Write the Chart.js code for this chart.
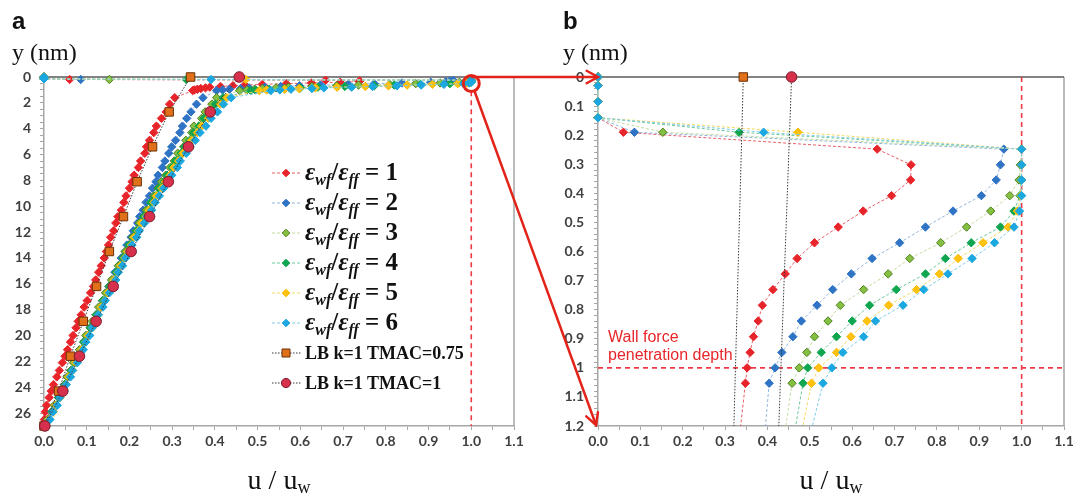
<!DOCTYPE html>
<html><head><meta charset="utf-8">
<script src="https://cdn.jsdelivr.net/npm/chart.js@4"></script>
<style>
html,body{margin:0;padding:0;background:#fff;}
#wrap{position:relative;width:1080px;height:496px;overflow:hidden;background:#fff;}
#ca,#cb{position:absolute;top:0;}
#ca{left:0;} #cb{left:540px;}
#ov{position:absolute;left:0;top:0;pointer-events:none;}
</style></head><body>
<div id="wrap">
<canvas id="ca" width="540" height="496"></canvas>
<canvas id="cb" width="540" height="496"></canvas>
<svg id="ov" width="1080" height="496" xmlns="http://www.w3.org/2000/svg"></svg>
</div>
<script>
// ---------- data (y in nm, u = u/uw) ----------
const yNear = [0, 0.03, 0.085, 0.14, 0.19, 0.248, 0.302, 0.354, 0.408, 0.461, 0.516, 0.570, 0.624, 0.677, 0.731, 0.785, 0.839, 0.893, 0.947, 1.000, 1.053];
const yFar = [1.6, 2.1, 2.7, 3.2, 3.8, 4.3, 4.9, 5.4, 5.9, 6.5, 7.0, 7.6, 8.1, 8.6, 9.2, 9.7, 10.3, 10.8, 11.3, 11.9, 12.4, 13.0, 13.5, 14.0, 14.6, 15.1, 15.7, 16.2, 16.7, 17.3, 17.8, 18.4, 18.9, 19.4, 20.0, 20.5, 21.1, 21.6, 22.1, 22.7, 23.2, 23.8, 24.3, 24.8, 25.4, 25.9, 26.5, 27.0];

const uNearE1 = [0, 0, 0, 0, 0.060, 0.659, 0.739, 0.738, 0.693, 0.626, 0.567, 0.511, 0.470, 0.442, 0.413, 0.388, 0.378, 0.367, 0.359, 0.352, 0.348];
const uNearE2 = [0, 0, 0, 0, 0.086, 0.958, 0.950, 0.940, 0.905, 0.838, 0.773, 0.712, 0.647, 0.598, 0.554, 0.517, 0.480, 0.460, 0.434, 0.418, 0.404];
const uNearE3 = [0, 0, 0, 0, 0.153, 1.000, 0.997, 0.994, 0.972, 0.927, 0.870, 0.809, 0.736, 0.685, 0.627, 0.572, 0.543, 0.511, 0.493, 0.475, 0.458];
const uNearE4 = [0, 0, 0, 0, 0.333, 1.000, 1.000, 0.999, 0.996, 0.982, 0.950, 0.881, 0.820, 0.773, 0.704, 0.641, 0.600, 0.563, 0.527, 0.495, 0.484];
const uNearE5 = [0, 0, 0, 0, 0.472, 1.000, 1.000, 1.000, 0.998, 0.990, 0.968, 0.909, 0.850, 0.806, 0.752, 0.686, 0.635, 0.597, 0.563, 0.521, 0.504];
const uNearE6 = [0, 0, 0, 0, 0.391, 1.000, 1.000, 1.000, 1.000, 0.995, 0.982, 0.936, 0.883, 0.826, 0.769, 0.720, 0.655, 0.627, 0.578, 0.552, 0.531];

const uFarE1 = [0.306, 0.294, 0.286, 0.275, 0.263, 0.257, 0.247, 0.240, 0.236, 0.226, 0.221, 0.211, 0.206, 0.200, 0.192, 0.187, 0.181, 0.173, 0.168, 0.163, 0.156, 0.151, 0.146, 0.141, 0.134, 0.128, 0.121, 0.116, 0.109, 0.101, 0.094, 0.087, 0.080, 0.075, 0.068, 0.062, 0.055, 0.049, 0.043, 0.036, 0.030, 0.022, 0.017, 0.012, 0.006, 0.003, 0.001, 0.000];
const uFarE2 = [0.372, 0.357, 0.344, 0.334, 0.324, 0.318, 0.308, 0.299, 0.292, 0.283, 0.277, 0.267, 0.262, 0.254, 0.247, 0.239, 0.232, 0.224, 0.219, 0.209, 0.204, 0.194, 0.190, 0.181, 0.175, 0.166, 0.161, 0.152, 0.147, 0.137, 0.132, 0.122, 0.117, 0.108, 0.102, 0.093, 0.087, 0.078, 0.073, 0.063, 0.058, 0.048, 0.043, 0.034, 0.028, 0.018, 0.011, 0.002];
const uFarE3 = [0.404, 0.393, 0.377, 0.369, 0.351, 0.346, 0.332, 0.327, 0.313, 0.305, 0.295, 0.285, 0.275, 0.267, 0.257, 0.250, 0.239, 0.233, 0.223, 0.216, 0.207, 0.199, 0.190, 0.185, 0.174, 0.169, 0.158, 0.153, 0.144, 0.137, 0.128, 0.122, 0.113, 0.108, 0.098, 0.093, 0.083, 0.078, 0.069, 0.063, 0.054, 0.048, 0.039, 0.034, 0.024, 0.019, 0.008, 0.001];
const uFarE4 = [0.419, 0.401, 0.389, 0.374, 0.363, 0.350, 0.341, 0.329, 0.321, 0.308, 0.300, 0.288, 0.281, 0.269, 0.260, 0.250, 0.243, 0.233, 0.227, 0.216, 0.210, 0.199, 0.194, 0.185, 0.178, 0.169, 0.162, 0.153, 0.148, 0.138, 0.133, 0.123, 0.118, 0.109, 0.103, 0.094, 0.088, 0.079, 0.074, 0.064, 0.059, 0.049, 0.044, 0.035, 0.028, 0.019, 0.012, 0.002];
const uFarE5 = [0.428, 0.413, 0.396, 0.385, 0.369, 0.359, 0.345, 0.337, 0.325, 0.315, 0.304, 0.295, 0.284, 0.276, 0.263, 0.257, 0.245, 0.239, 0.228, 0.221, 0.211, 0.204, 0.195, 0.189, 0.179, 0.173, 0.163, 0.158, 0.149, 0.142, 0.133, 0.127, 0.118, 0.113, 0.103, 0.098, 0.088, 0.083, 0.074, 0.067, 0.058, 0.052, 0.043, 0.038, 0.027, 0.022, 0.011, 0.003];
const uFarE6 = [0.438, 0.420, 0.406, 0.391, 0.379, 0.365, 0.354, 0.342, 0.333, 0.319, 0.312, 0.299, 0.291, 0.280, 0.270, 0.260, 0.252, 0.241, 0.235, 0.223, 0.217, 0.206, 0.200, 0.191, 0.184, 0.174, 0.168, 0.159, 0.153, 0.143, 0.138, 0.127, 0.123, 0.113, 0.107, 0.098, 0.092, 0.083, 0.078, 0.067, 0.062, 0.052, 0.047, 0.037, 0.031, 0.021, 0.014, 0.003];

const yLB = [0, 2.7, 5.4, 8.1, 10.8, 13.5, 16.2, 18.9, 21.6, 24.3, 27];
const uLB075 = [0.343, 0.293, 0.254, 0.218, 0.186, 0.153, 0.123, 0.092, 0.062, 0.034, 0.000];
const uLB1 = [0.457, 0.389, 0.338, 0.291, 0.247, 0.204, 0.162, 0.122, 0.083, 0.044, 0.002];

const legendLabels = ['1', '2', '3', '4', '5', '6'];
const lbLabels = ['LB k=1 TMAC=0.75', 'LB k=1 TMAC=1'];

// ---------- styles ----------
const md = [
  {near:uNearE1, far:uFarE1, pt:'#e8242b', bd:'#e8242b', ln:'rgba(225,55,65,0.8)'},
  {near:uNearE2, far:uFarE2, pt:'#2f73c5', bd:'#2f73c5', ln:'#93b6df'},
  {near:uNearE3, far:uFarE3, pt:'#86c040', bd:'#4f7e22', ln:'#c2dca0'},
  {near:uNearE4, far:uFarE4, pt:'#10a650', bd:'#10a650', ln:'#6cc99a'},
  {near:uNearE5, far:uFarE5, pt:'#ffc20e', bd:'#f5b800', ln:'#f5d860'},
  {near:uNearE6, far:uFarE6, pt:'#1ba7df', bd:'#1ba7df', ln:'#80cdeb'}
];
const lb = [
  {u:uLB075, pt:'#e0701a', bd:'#6b3208', style:'rect', r:6},
  {u:uLB1, pt:'#d6304c', bd:'#7a1b2a', style:'circle', r:5.3}
];

function mdPoints(s){
  return yNear.map((y,i)=>({x:s.near[i], y:y})).concat(yFar.map((y,i)=>({x:s.far[i], y:y})));
}
function makeDatasets(clip){
  const ds = [];
  [lb[1], lb[0]].forEach(s=>{
    ds.push({data: yLB.map((y,i)=>({x:s.u[i], y:y})), showLine:true, borderColor:'#3a3a3a', borderWidth:1,
      borderDash:[1.5,1.5], pointStyle:s.style, pointRadius:s.r, pointBackgroundColor:s.pt,
      pointBorderColor:s.bd, pointBorderWidth:1, clip:clip});
  });
  [5,4,3,2,1,0].forEach(k=>{
    const s = md[k];
    ds.push({data: mdPoints(s), showLine:true, borderColor:s.ln, borderWidth:1, borderDash:[3,2],
      pointStyle:'rectRot', pointRadius:4.2, pointBackgroundColor:s.pt, pointBorderColor:s.bd,
      pointBorderWidth:1, clip:clip});
  });
  return ds;
}

const tickFont = {family:'Lato', weight:'bold', size:14};
function xScale(){
  return {type:'linear', min:0, max:1.1,
    afterFit(s){ s.height = 70; },
    ticks:{stepSize:0.05, autoSkip:false, maxRotation:0, minRotation:0, padding:3, color:'#404040', font:tickFont,
      callback:v=> (Math.round(v*100)%10===0) ? (Math.round(v*10)/10).toFixed(1) : ''},
    grid:{drawOnChartArea:false, tickLength:4, color:'#a6a6a6'},
    border:{color:'#a6a6a6', width:1.5}};
}
function yScale(max, step, width, pad, cb){
  return {type:'linear', reverse:true, min:0, max:max,
    afterFit(s){ s.width = width; },
    ticks:{stepSize:step, autoSkip:false, padding:pad, color:'#404040', font:tickFont, callback:cb},
    grid:{drawOnChartArea:false, tickLength:4, color:'#a6a6a6'},
    border:{color:'#a6a6a6', width:1.5}};
}

function dashed(ctx, x0, y0, x1, y1){
  ctx.save(); ctx.strokeStyle='#ee3a44'; ctx.lineWidth=1.6; ctx.setLineDash([5,4]);
  ctx.beginPath(); ctx.moveTo(x0,y0); ctx.lineTo(x1,y1); ctx.stroke(); ctx.restore();
}
function frame(ctx, a){
  ctx.save(); ctx.lineWidth=1.5;
  ctx.strokeStyle='#a6a6a6'; ctx.beginPath(); ctx.moveTo(a.right, a.top); ctx.lineTo(a.right, a.bottom); ctx.stroke();
  ctx.strokeStyle='#5a5a5a'; ctx.beginPath(); ctx.moveTo(a.left, a.top); ctx.lineTo(a.right, a.top); ctx.stroke();
  ctx.restore();
}

const plugA = {id:'plugA',
  beforeDatasetsDraw(chart){
    const ctx = chart.ctx, a = chart.chartArea, x = chart.scales.x, y = chart.scales.y;
    frame(ctx, a);
    dashed(ctx, x.getPixelForValue(1.0), y.getPixelForValue(1.1), x.getPixelForValue(1.0), y.getPixelForValue(27));
  },
  afterDraw(chart){
    const ctx = chart.ctx;
    const ys = [173, 203, 233, 263, 293, 323, 353, 383];
    ys.forEach((yy, i)=>{
      let col, pt, bd, style, r;
      if (i < 6){ const s = md[i]; col = s.ln; pt = s.pt; bd = s.bd; style='d'; r=3.8; }
      else { const s = lb[i-6]; col = '#3a3a3a'; pt = s.pt; bd = s.bd; style = s.style; r = s.r; }
      ctx.save();
      ctx.strokeStyle = col; ctx.lineWidth = 1; ctx.setLineDash(i<6 ? [3,2] : [1.5,1.5]);
      ctx.beginPath(); ctx.moveTo(272, yy); ctx.lineTo(301, yy); ctx.stroke();
      ctx.setLineDash([]); ctx.fillStyle = pt; ctx.strokeStyle = bd; ctx.lineWidth = 1;
      ctx.beginPath();
      const cx = 286;
      if (style==='d'){ ctx.moveTo(cx, yy-r); ctx.lineTo(cx+r, yy); ctx.lineTo(cx, yy+r); ctx.lineTo(cx-r, yy); ctx.closePath(); }
      else if (style==='rect'){ const h = 4; ctx.rect(cx-h, yy-h, 2*h, 2*h); }
      else { ctx.arc(cx, yy, 4.6, 0, Math.PI*2); }
      ctx.fill(); ctx.stroke();
      ctx.restore();
    });
  }
};
const plugB = {id:'plugB',
  beforeDatasetsDraw(chart){
    const ctx = chart.ctx, a = chart.chartArea, x = chart.scales.x, y = chart.scales.y;
    frame(ctx, a);
    dashed(ctx, x.getPixelForValue(1.0), a.top, x.getPixelForValue(1.0), a.bottom);
    dashed(ctx, a.left, y.getPixelForValue(1.0), a.right, y.getPixelForValue(1.0));
  }
};

const common = {responsive:false, animation:false, devicePixelRatio:1,
  plugins:{legend:{display:false}, tooltip:{enabled:false}}};

const chartA = new Chart(document.getElementById('ca'), {
  type:'scatter',
  data:{datasets: makeDatasets(false)},
  options:Object.assign({}, common, {
    layout:{padding:{left:0, top:77, right:26, bottom:0}},
    scales:{x:xScale(), y:yScale(27, 0.5, 44, 9, v=> (Math.abs(v/2 - Math.round(v/2))<1e-9) ? String(Math.round(v)) : '')}
  }),
  plugins:[plugA]
});
const chartB = new Chart(document.getElementById('cb'), {
  type:'scatter',
  data:{datasets: makeDatasets({left:10, top:10, right:10, bottom:0})},
  options:Object.assign({}, common, {
    layout:{padding:{left:0, top:77, right:16, bottom:0}},
    scales:{x:xScale(), y:yScale(1.2, 0.02, 58, 10, v=>{ const k=Math.round(v*50); return k%5===0 ? String(Math.round(v*10)/10) : ''; })}
  }),
  plugins:[plugB]
});

// ---------- overlay: text, circle, arrows ----------
(function(){
  const A = chartA, B = chartB;
  const aA = A.chartArea, aB = B.chartArea;
  const cx = A.scales.x.getPixelForValue(1.0), cy = A.scales.y.getPixelForValue(0.5), r = 8;
  const bx0 = 540 + B.scales.x.getPixelForValue(0), by0 = B.scales.y.getPixelForValue(0), by1 = B.scales.y.getPixelForValue(1.2);
  const red = '#e2231a';
  function arrow(x0,y0,x1,y1){
    const ang = Math.atan2(y1-y0, x1-x0), L = 13, w = 0.5;
    const p1 = [x1 - L*Math.cos(ang-w), y1 - L*Math.sin(ang-w)];
    const p2 = [x1 - L*Math.cos(ang+w), y1 - L*Math.sin(ang+w)];
    return `<line x1="${x0}" y1="${y0}" x2="${x1}" y2="${y1}" stroke="${red}" stroke-width="2.5"/>`+
      `<polyline points="${p1[0]},${p1[1]} ${x1},${y1} ${p2[0]},${p2[1]}" fill="none" stroke="${red}" stroke-width="2.5" stroke-linecap="round"/>`;
  }
  let s = '';
  s += `<circle cx="${cx}" cy="${cy}" r="${r}" fill="none" stroke="${red}" stroke-width="3"/>`;
  s += arrow(cx, by0, bx0, by0);
  s += arrow(cx+3, cy+r-1, bx0-2, by1-1);
  const serif = 'Liberation Serif', sans = 'Liberation Sans';
  s += `<text x="12" y="29" font-family="${sans}" font-weight="bold" font-size="24" fill="#111">a</text>`;
  s += `<text x="563" y="29" font-family="${sans}" font-weight="bold" font-size="24" fill="#111">b</text>`;
  s += `<text x="12" y="60" font-family="${serif}" font-size="24" fill="#111">y (nm)</text>`;
  s += `<text x="563" y="60" font-family="${serif}" font-size="24" fill="#111">y (nm)</text>`;
  const xa = (aA.left + aA.right)/2, xb = 540 + (aB.left + aB.right)/2;
  [xa, xb].forEach(xc=>{
    s += `<text x="${xc}" y="489" text-anchor="middle" font-family="${serif}" font-size="28" fill="#111">u / u<tspan font-size="18" dy="4">w</tspan></text>`;
  });
  const ys = [173, 203, 233, 263, 293, 323];
  ys.forEach((yy,i)=>{
    s += `<text x="305" y="${yy+7}" font-family="${serif}" font-weight="bold" font-size="25" fill="#111" style="white-space:pre">`+
      `<tspan font-style="italic">ε</tspan><tspan font-style="italic" font-size="16" dy="5">wf</tspan>`+
      `<tspan dy="-5">/</tspan><tspan font-style="italic">ε</tspan><tspan font-style="italic" font-size="16" dy="5">ff</tspan>`+
      `<tspan dy="-5"> = ${legendLabels[i]}</tspan></text>`;
  });
  [353, 383].forEach((yy,i)=>{
    s += `<text x="305" y="${yy+6}" font-family="${serif}" font-weight="bold" font-size="18" fill="#111">${lbLabels[i]}</text>`;
  });
  s += `<text x="608" y="342" font-family="${sans}" font-size="16" fill="#e8262a">Wall force</text>`;
  s += `<text x="608" y="360" font-family="${sans}" font-size="16" fill="#e8262a">penetration depth</text>`;
  document.getElementById('ov').innerHTML = s;
})();
</script>
</body></html>
